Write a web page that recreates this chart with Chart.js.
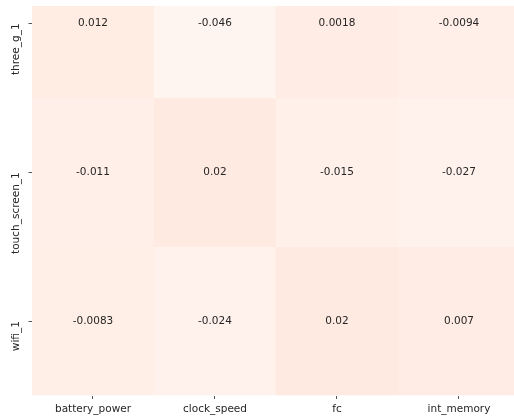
<!DOCTYPE html>
<html>
<head>
<meta charset="utf-8">
<script src="https://cdn.jsdelivr.net/npm/chart.js@4/dist/chart.umd.min.js"></script>
<style>
html,body{margin:0;padding:0;background:#fff;overflow:hidden;}
canvas{display:block;}
</style>
</head>
<body>
<canvas id="c" width="514" height="419"></canvas>
<script>
// ---- data ----
const columns = ['battery_power', 'clock_speed', 'fc', 'int_memory'];
const rows = ['three_g_1', 'touch_screen_1', 'wifi_1'];
const three_g_1 = [0.012, -0.046, 0.0018, -0.0094];
const touch_screen_1 = [-0.011, 0.02, -0.015, -0.027];
const wifi_1 = [-0.0083, -0.024, 0.02, 0.007];
const rowValues = [three_g_1, touch_screen_1, wifi_1];

// colour scale (matplotlib "Reds", vmin≈-0.046, vmax=1)
const vmin = -0.046, vmax = 1;
const stops = [[0, [255,245,240]], [0.125, [254,224,210]], [0.25, [252,187,161]], [0.375, [252,146,114]], [0.5, [251,106,74]], [0.625,[239,59,44]], [0.75,[203,24,29]], [0.875,[165,15,21]], [1,[103,0,13]]];
function reds(v) {
  let t = (v - vmin) / (vmax - vmin);
  t = Math.max(0, Math.min(1, t));
  for (let i = 0; i < stops.length - 1; i++) {
    const [t0, c0] = stops[i], [t1, c1] = stops[i + 1];
    if (t <= t1) {
      const f = (t - t0) / (t1 - t0);
      const c = c0.map((a, k) => Math.round(a + (c1[k] - a) * f));
      return `rgb(${c[0]},${c[1]},${c[2]})`;
    }
  }
  return 'rgb(103,0,13)';
}
function fmt(v) { return String(Number(v.toPrecision(2))); }

const datasets = rows.map((name, r) => ({
  label: name,
  data: columns.map((c, i) => ({ x: i, y: [r - 0.5, r + 0.5] })),
  values: rowValues[r],
  backgroundColor: rowValues[r].map(reds),
  borderWidth: 0,
  grouped: false,
  barPercentage: 1,
  categoryPercentage: 1
}));

const annotPlugin = {
  id: 'annot',
  afterDatasetsDraw(chart) {
    const ctx = chart.ctx;
    const a = chart.chartArea;
    ctx.save();
    ctx.beginPath();
    ctx.rect(a.left, a.top, a.right - a.left, a.bottom - a.top);
    ctx.clip();
    ctx.font = '10.5px "DejaVu Sans"';
    ctx.fillStyle = '#262626';
    ctx.textAlign = 'center';
    ctx.textBaseline = 'middle';
    chart.data.datasets.forEach((ds, di) => {
      chart.getDatasetMeta(di).data.forEach((el, i) => {
        const p = el.getProps(['x', 'y', 'base'], true);
        ctx.fillText(fmt(ds.values[i]), p.x, (p.y + p.base) / 2);
      });
    });
    ctx.restore();
  }
};

function noPad(s) { s.paddingLeft = 0; s.paddingRight = 0; s.paddingTop = 0; s.paddingBottom = 0; }

const font = { family: '"DejaVu Sans"', size: 10.5 };
new Chart(document.getElementById('c'), {
  type: 'bar',
  data: { datasets },
  plugins: [annotPlugin],
  options: {
    responsive: false,
    animation: false,
    layout: { padding: { top: 6, left: 0, right: 0, bottom: 0 } },
    plugins: { legend: { display: false }, tooltip: { enabled: false } },
    scales: {
      x: {
        type: 'linear',
        offset: false,
        min: -0.5,
        max: 3.451,
        afterBuildTicks: s => { s.ticks = columns.map((c, i) => ({ value: i })); },
        afterFit: s => { s.height = 23.5; noPad(s); },
        ticks: {
          autoSkip: false, maxRotation: 0, minRotation: 0,
          padding: 3.5, color: '#262626', font,
          callback: v => columns[v]
        },
        grid: { offset: false, drawOnChartArea: false, drawTicks: true, tickLength: 3.5, color: '#555', lineWidth: 1 },
        border: { display: false }
      },
      y: {
        type: 'linear',
        reverse: true,
        offset: false,
        min: -0.117,
        max: 2.5,
        afterBuildTicks: s => { s.ticks = rows.map((r, i) => ({ value: i })); },
        afterFit: s => { s.width = 32; noPad(s); },
        ticks: {
          autoSkip: false, minRotation: 90, maxRotation: 90,
          padding: 12, color: '#262626', font,
          callback: v => rows[v]
        },
        grid: { offset: false, drawOnChartArea: false, drawTicks: true, tickLength: 3.5, color: '#555', lineWidth: 1 },
        border: { display: false }
      }
    }
  }
});
</script>
</body>
</html>
